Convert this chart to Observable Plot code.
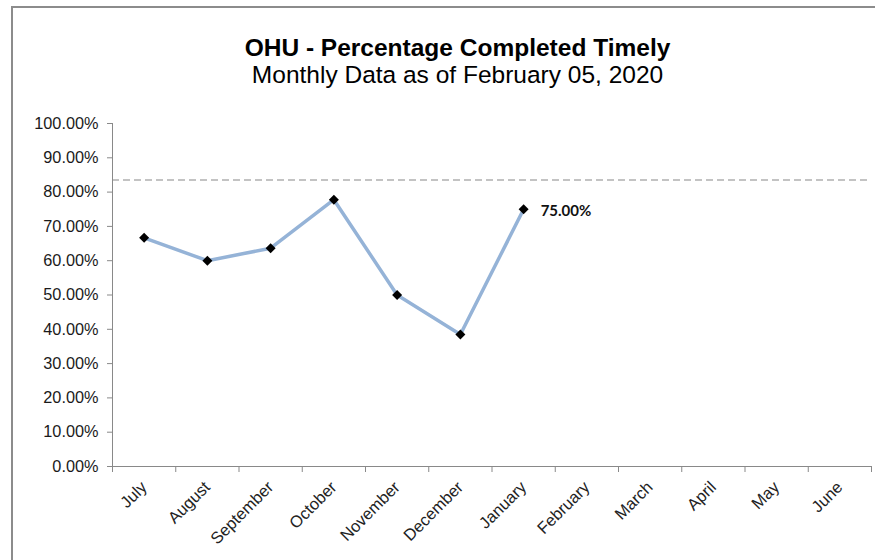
<!DOCTYPE html>
<html>
<head>
<meta charset="utf-8">
<script src="https://cdn.jsdelivr.net/npm/d3@7"></script>
<script src="https://cdn.jsdelivr.net/npm/@observablehq/plot@0.6"></script>
<style>
  html, body { margin: 0; padding: 0; background: #fff; }
  #page { position: relative; width: 875px; height: 560px; overflow: hidden; background: #fff; }
  #frame { position: absolute; left: 11px; top: 6px; right: -10px; bottom: -10px;
           border-left: 2px solid #8c8c8c; border-top: 2px solid #8c8c8c; }
  .t { position: absolute; left: 40px; width: 835px; text-align: center; color: #000;
       font-family: "Liberation Sans", Arial, sans-serif; font-size: 24.5px; line-height: 24px; white-space: nowrap; }
  #title { top: 36px; font-weight: bold; }
  #subtitle { top: 63px; }
  #chart { position: absolute; left: 0; top: 100px; }
</style>
</head>
<body>
<div id="page">
  <div id="frame"></div>
  <div class="t" id="title">OHU - Percentage Completed Timely</div>
  <div class="t" id="subtitle">Monthly Data as of February 05, 2020</div>
  <div id="chart"></div>
</div>
<script>
// ---- data ----
const months = ["July", "August", "September", "October", "November", "December",
                "January", "February", "March", "April", "May", "June"];
const values = [0.6667, 0.60, 0.6364, 0.7778, 0.50, 0.3846, 0.75];
const target = 0.835;
const yTicks = [0, 0.1, 0.2, 0.3, 0.4, 0.5, 0.6, 0.7, 0.8, 0.9, 1.0];

const data = values.map((v, i) => ({i, month: months[i], v}));
const last = data[data.length - 1];
const monthIdx = months.map((m, i) => ({i, m}));
const boundaries = d3.range(-0.5, months.length, 1);
const pct = d3.format(".2%");
const axisGray = "#898989";

const chart = Plot.plot({
  width: 875,
  height: 460,
  marginTop: 23,
  marginBottom: 94,
  marginLeft: 112,
  marginRight: 4,
  style: {fontFamily: "'Liberation Sans', Arial, sans-serif", fontSize: "16px", color: "#1a1a1a", background: "transparent"},
  x: {type: "linear", domain: [-0.5, months.length - 0.5], axis: null},
  y: {domain: [0, 1], axis: null},
  marks: [
    Plot.ruleY([target], {stroke: "#c3c3c3", strokeWidth: 2, strokeDasharray: "7,4"}),
    Plot.axisY({ticks: yTicks, tickFormat: pct, tickSize: 5, tickPadding: 9,
                stroke: axisGray, fill: "#1a1a1a", fontSize: 16.3, label: null}),
    Plot.axisX({ticks: boundaries, tickFormat: () => "", tickSize: 6, stroke: axisGray, label: null}),
    Plot.ruleX([-0.5], {stroke: axisGray}),
    Plot.ruleY([0], {stroke: axisGray}),
    Plot.text(monthIdx, {x: "i", frameAnchor: "bottom", text: "m", rotate: -45,
                         textAnchor: "end", lineAnchor: "middle", dx: 0, dy: 18,
                         fill: "#222", fontSize: 16.5}),
    Plot.line(data, {x: "i", y: "v", stroke: "#95b3d7", strokeWidth: 3.5}),
    Plot.dot(data, {x: "i", y: "v", symbol: "diamond2", r: 4.5, fill: "#000", stroke: "none"}),
    Plot.text([last], {x: "i", y: "v", text: d => pct(d.v), textAnchor: "start", dx: 17, dy: 2,
                       fontFamily: "Lato, 'Open Sans', sans-serif", fontWeight: "bold", fontSize: 15, fill: "#111"})
  ]
});
document.getElementById("chart").appendChild(chart);
</script>
</body>
</html>
